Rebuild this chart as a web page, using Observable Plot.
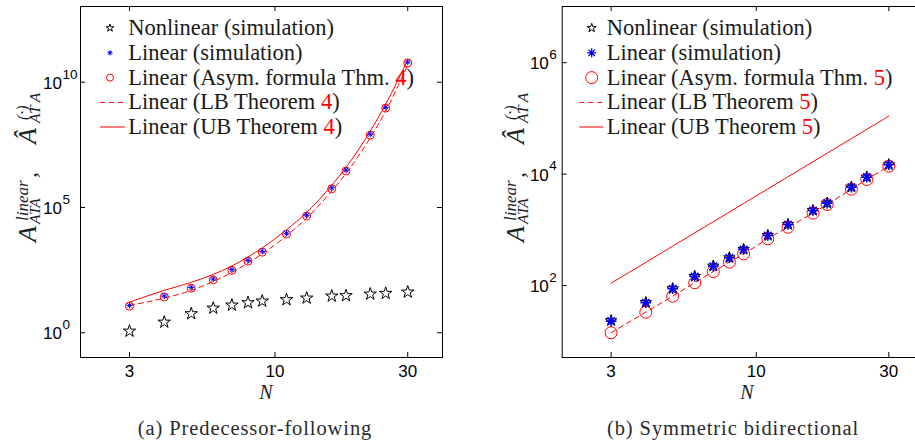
<!DOCTYPE html>
<html>
<head>
<meta charset="utf-8">
<script src="https://cdn.jsdelivr.net/npm/d3@7"></script>
<script src="https://cdn.jsdelivr.net/npm/@observablehq/plot@0.6"></script>
<style>
html,body{margin:0;padding:0;background:#fff;overflow:hidden;width:915px;height:444px;}
#wrap{position:relative;width:915px;height:444px;overflow:hidden;}
#wrap > svg{position:absolute;top:0;}
.serif{font-family:"Liberation Serif","Times New Roman",Times,serif;}
</style>
</head>
<body>
<div id="wrap"></div>
<script>
// ---------- data ----------
const N = [3, 4, 5, 6, 7, 8, 9, 11, 13, 16, 18, 22, 25, 30];
const xTicks = [3, 10, 30];

// (a) Predecessor-following
const pfNonlinear = [1.16, 2.65, 5.75, 9.6, 12.7, 15.8, 18.4, 20.9, 24.2, 29.1, 30.2, 35, 37.3, 42];
const pfLinearSim = [12.4, 29.1, 64.6, 139, 331, 776, 1778, 9333, 48980, 602600, 3.09e6, 8.32e7, 1.0e9, 6.31e10];
const pfAsym = [11.5, 27, 60, 129, 308, 722, 1650, 8700, 45500, 5.6e5, 2.87e6, 7.7e7, 9.3e8, 5.9e10];
const pfLB = [12.4, 24.2, 49.2, 112, 257, 608, 1413, 7413, 38000, 457000, 2.29e6, 6.03e7, 7.08e8, 4.9e10];
const pfUB = [16.7, 49.2, 102.8, 214.8, 461, 1057, 2455, 12880, 63100, 776000, 3.98e6, 1.12e8, 1.32e9, 7.76e10];
const pfYTicks = [1, 1e5, 1e10];
const pfYExp = ["0", "5", "10"];

// (b) Symmetric bidirectional
const sbNonlinear = [23.5, 49.5, 88, 146, 224, 316, 446, 795, 1250, 2230, 3020, 5850, 8850, 14800];
const sbLinearSim = [22.9, 48.9, 87.3, 145, 222, 314, 443, 790, 1245, 2220, 3010, 5820, 8800, 14700];
const sbAsym = [14.2, 33.2, 64.3, 112, 178, 262, 370, 689, 1113, 1990, 2847, 5360, 8000, 13870];
const sbLB = [14.2, 33.2, 64.3, 112, 178, 262, 370, 689, 1113, 1990, 2847, 5360, 8000, 13870];
const sbUB = [110, 260, 509, 879, 1396, 2084, 2967, 5417, 8942, 16671, 23736, 43337, 63594, 109890];
const sbYTicks = [1e2, 1e4, 1e6];
const sbYExp = ["2", "4", "6"];

const legendLabels = [
  ["Nonlinear (simulation)"],
  ["Linear (simulation)"],
  ["Linear (Asym. formula Thm. ", "#", ")"],
  ["Linear (LB Theorem ", "#", ")"],
  ["Linear (UB Theorem ", "#", ")"]
];

// ---------- helpers ----------
const asterisk8 = {
  draw(ctx, size) {
    const r = Math.sqrt(size / Math.PI);
    for (let k = 0; k < 4; k++) {
      const a = k * Math.PI / 4, c = Math.cos(a) * r, s = Math.sin(a) * r;
      ctx.moveTo(-c, -s); ctx.lineTo(c, s);
    }
  }
};

const H = 400, MT = 6, MB = 43;

function panel(o) {
  const rows = N.map((n, i) => ({n, nonlin: o.nonlin[i], sim: o.sim[i], asym: o.asym[i], lb: o.lb[i], ub: o.ub[i]}));
  const yt = o.yTicks.map((v, i) => ({v, e: o.yExp[i]}));
  const frameW = o.width - o.marginLeft - o.marginRight;
  const frameH = H - MT - MB;
  return Plot.plot({
    width: o.width, height: H,
    marginLeft: o.marginLeft, marginRight: o.marginRight, marginTop: MT, marginBottom: MB,
    style: {background: "transparent", fontFamily: "'Liberation Sans', Arial, sans-serif", overflow: "visible", color: "#000"},
    x: {type: "log", domain: [2, 40]},
    y: {type: "log", domain: o.yDomain, axis: null},
    marks: [
      Plot.line(rows, {x: "n", y: "ub", stroke: "#ff0000", strokeWidth: 1, curve: "monotone-x"}),
      Plot.line(rows, {x: "n", y: "lb", stroke: "#ff0000", strokeWidth: 1, strokeDasharray: "5,4", curve: "monotone-x"}),
      Plot.dot(rows, {x: "n", y: "nonlin", symbol: "star", r: o.starR, stroke: "#000", fill: "none", strokeWidth: 1}),
      Plot.dot(rows, {x: "n", y: "asym", symbol: "circle", r: o.circR, stroke: "#ff0000", fill: "none", strokeWidth: 1}),
      Plot.dot(rows, {x: "n", y: "sim", symbol: asterisk8, r: o.astR, stroke: "#0000ff", fill: "none", strokeWidth: o.astW}),
      Plot.frame({stroke: "#000", strokeWidth: 1}),
      Plot.tickX(xTicks, {x: d => d, insetTop: frameH - 5, stroke: "#000"}),
      Plot.tickX(xTicks, {x: d => d, insetBottom: frameH - 5, stroke: "#000"}),
      Plot.tickY(o.yTicks, {y: d => d, insetRight: frameW - 5, stroke: "#000"}),
      Plot.tickY(o.yTicks, {y: d => d, insetLeft: frameW - 5, stroke: "#000"}),
      Plot.axisX({ticks: xTicks, tickSize: 0, tickPadding: 7, tickFormat: d => String(d), fontSize: 17, label: null, fill: "#000"}),
      Plot.text(yt, {y: "v", text: () => "10", frameAnchor: "left", textAnchor: "end", dx: o.tickDx, dy: 1, fontSize: 17, fill: "#000"}),
      Plot.text(yt, {y: "v", text: "e", frameAnchor: "left", textAnchor: "start", dx: o.tickDx + 0.5, dy: -8, fontSize: 13.5, fill: "#000"})
    ]
  });
}

const wrap = document.getElementById("wrap");

const left = panel({
  nonlin: pfNonlinear, sim: pfLinearSim, asym: pfAsym, lb: pfLB, ub: pfUB,
  yDomain: [0.103, 1.05e13], yTicks: pfYTicks, yExp: pfYExp,
  width: 460, marginLeft: 80, marginRight: 18, tickDx: -18.5,
  starR: 3.9, circR: 4, astR: 3, astW: 1
});
left.style.left = "0px";
wrap.appendChild(left);

const right = panel({
  nonlin: sbNonlinear, sim: sbLinearSim, asym: sbAsym, lb: sbLB, ub: sbUB,
  yDomain: [5.1, 1.02e7], yTicks: sbYTicks, yExp: sbYExp,
  width: 470, marginLeft: 101.7, marginRight: 7, tickDx: -13.4,
  starR: 3.6, circR: 6, astR: 5.3, astW: 1.6
});
right.style.left = "460px";
wrap.appendChild(right);

// ---------- overlay: legends, axis titles, captions ----------
const ov = d3.select(wrap).append("svg")
  .attr("width", 915).attr("height", 444)
  .style("left", "0px").style("pointer-events", "none");

const baselines = [35, 59.8, 84.6, 109.4, 134];

function legend(o) {
  const g = ov.append("g");
  baselines.forEach((b, i) => {
    const cy = b - 7;
    if (i === 0) {
      g.append("path").attr("transform", `translate(${o.markX},${cy})`)
        .attr("d", d3.symbol(d3.symbolStar, Math.PI * o.starR * o.starR)())
        .attr("fill", "none").attr("stroke", "#000");
    } else if (i === 1) {
      const p = d3.path(); asterisk8.draw(p, Math.PI * o.astR * o.astR);
      g.append("path").attr("transform", `translate(${o.markX},${cy})`).attr("d", p.toString())
        .attr("fill", "none").attr("stroke", "#0000ff").attr("stroke-width", o.astW);
    } else if (i === 2) {
      g.append("circle").attr("cx", o.markX).attr("cy", cy).attr("r", o.circR)
        .attr("fill", "none").attr("stroke", "#ff0000");
    } else {
      g.append("line").attr("x1", o.x0).attr("x2", o.x1).attr("y1", cy).attr("y2", cy)
        .attr("stroke", "#ff0000").attr("stroke-dasharray", i === 3 ? "5,4" : null);
    }
    const t = g.append("text").attr("class", "serif").attr("x", o.textX).attr("y", b)
      .attr("font-size", 22.5).attr("fill", "#1a1a1a");
    legendLabels[i].forEach(s => {
      if (s === "#") t.append("tspan").attr("fill", "#ff0000").text(o.thm);
      else t.append("tspan").text(s);
    });
  });
}
legend({x0: 100, x1: 125, markX: 110, textX: 128.3, thm: "4", starR: 2.4, astR: 2.6, astW: 1, circR: 3.5});
legend({x0: 579.3, x1: 603.3, markX: 591.7, textX: 606.7, thm: "5", starR: 2.8, astR: 4.5, astW: 1.3, circR: 6});

function yLabel(bx, by) {
  const g = ov.append("g").attr("class", "serif").attr("transform", `translate(${bx},${by}) rotate(-90)`)
    .attr("font-style", "italic").attr("fill", "#222");
  const put = (x, y, size, s) => g.append("text").attr("x", x).attr("y", y).attr("font-size", size).text(s);
  put(0, 0, 26, "A");
  put(21, -8, 17, "linear");
  put(18, 4, 15.5, "ATA");
  put(64, 0, 24, ",");
  put(98, 0, 26, "Â");
  put(122, -8, 16, "(·)");
  put(119, 4, 15.5, "AT A");
}
yLabel(36, 242);
yLabel(524, 242);

function text(x, y, s, opts = {}) {
  return ov.append("text").attr("class", "serif").attr("x", x).attr("y", y).attr("text-anchor", "middle")
    .attr("font-size", opts.size || 20)
    .attr("font-style", opts.italic ? "italic" : null)
    .attr("letter-spacing", opts.ls || null)
    .attr("fill", opts.fill || "#222").text(s);
}
text(266, 398.5, "N", {italic: true, size: 20});
text(747, 398.5, "N", {italic: true, size: 20});
text(255, 435, "(a)  Predecessor-following", {size: 20.5, ls: "0.9px", fill: "#2a2a2a"});
text(733, 435, "(b)  Symmetric bidirectional", {size: 20.5, ls: "0.9px", fill: "#2a2a2a"});
</script>
</body>
</html>
